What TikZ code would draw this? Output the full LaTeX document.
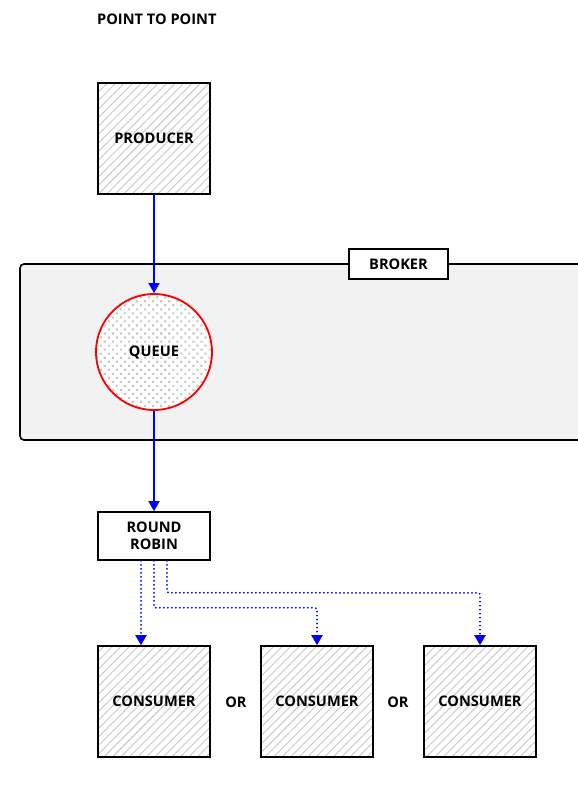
\documentclass[tikz,border=0pt]{standalone}
\usepackage{fontspec}
\setmainfont{Open Sans}
\usepackage{xcolor}
\usetikzlibrary{arrows.meta,patterns.meta}

\begin{document}
\begin{tikzpicture}[x=1pt,y=-1pt,
  font=\bfseries\fontsize{14.6}{17}\selectfont,
  box/.style={draw=black,line width=1.6pt,fill=white,align=center,inner sep=0pt},
  hatchbox/.style={box,minimum width=112pt,minimum height=111pt,
    preaction={fill=white},
    pattern={Lines[angle=45,distance=6pt,line width=0.9pt]},pattern color=black!22},
  pool/.style={circle,draw=red,line width=1.8pt,minimum size=116pt,inner sep=0pt,
    preaction={fill=white},
    pattern={Dots[angle=45,distance=5.7pt,radius=1.5pt]},pattern color=black!22},
  flow/.style={draw=blue,line width=1.4pt,-{Triangle[length=10pt,width=11pt]}},
  spread/.style={draw=blue,line width=2pt,line cap=round,dash pattern=on 0pt off 4pt,
    -{Triangle[length=10pt,width=11pt]}}]
\clip (0,0) rectangle (578,793);
\fill[white] (0,0) rectangle (578,793);

\node[anchor=west,inner sep=0pt] (title) at (97,19) {POINT TO POINT};

% broker panel runs off the right edge
\draw[line width=1.6pt,fill=black!5,rounded corners=4pt] (20,264) rectangle (640,440);
\node[box,minimum width=99pt,minimum height=30pt] (broker) at (398.5,264) {BROKER};

\node[hatchbox] (producer) at (154,138.5) {PRODUCER};
\node[pool] (queue) at (154,352) {QUEUE};
\node[box,minimum width=112pt,minimum height=48pt] (rr) at (154,536) {ROUND\\ROBIN};

\node[hatchbox] (c1) at (154,701.5) {CONSUMER};
\node[hatchbox] (c2) at (317,701.5) {CONSUMER};
\node[hatchbox] (c3) at (480,701.5) {CONSUMER};
\node (or1) at (236,702) {OR};
\node (or2) at (398,702) {OR};

\draw[flow] (producer) -- (queue);
\draw[flow] (queue) -- (rr);

% round robin fan out
\draw[spread] ([xshift=-13pt]rr.south) -- ([xshift=-13pt]c1.north);
\draw[spread,rounded corners=2pt] (rr.south) -- ++(0,47) -| (c2.north);
\draw[spread,rounded corners=2pt] ([xshift=13pt]rr.south) -- ++(0,32) -| (c3.north);
\end{tikzpicture}
\end{document}
